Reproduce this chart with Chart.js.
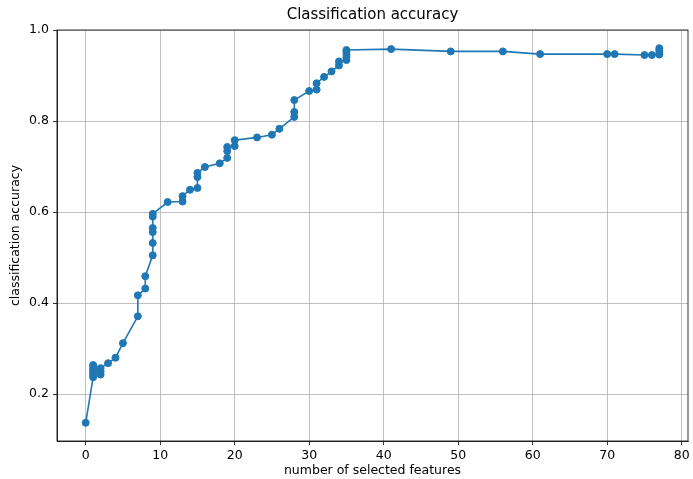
<!DOCTYPE html>
<html>
<head>
<meta charset="utf-8">
<title>Classification accuracy</title>
<script src="https://cdn.jsdelivr.net/npm/chart.js@4.4.0/dist/chart.umd.min.js"></script>
<style>
    html, body { margin: 0; padding: 0; background: #fff; }
    canvas { display: block; }
</style>
</head>
<body>
<canvas id="accuracyChart" width="693" height="479"></canvas>
<script>
// number of selected features for each run, and the accuracy it reached
var featureCounts = [
    0,
    1, 1, 1, 1, 1, 1,
    2, 2, 2,
    3, 4, 5,
    7, 7, 8, 8,
    9, 9, 9, 9, 9, 9,
    11, 13, 13, 14, 15, 15, 15, 16, 18,
    19, 19, 19, 20, 20,
    23, 25, 26, 28, 28, 28,
    30, 31, 31, 32, 33, 34, 34,
    35, 35, 35, 35, 35,
    41, 49, 56, 61, 70, 71, 75, 76,
    77, 77, 77, 77
];
var accuracy = [
    0.137,
    0.237, 0.243, 0.248, 0.253, 0.258, 0.264,
    0.243, 0.250, 0.257,
    0.268, 0.280, 0.312,
    0.371, 0.417, 0.432, 0.459,
    0.505, 0.532, 0.556, 0.565, 0.590, 0.596,
    0.622, 0.623, 0.635, 0.649, 0.653, 0.677, 0.686, 0.699, 0.707,
    0.719, 0.734, 0.743, 0.745, 0.758,
    0.764, 0.770, 0.783, 0.809, 0.820, 0.846,
    0.866, 0.869, 0.883, 0.897, 0.909, 0.922, 0.931,
    0.934, 0.940, 0.946, 0.952, 0.956,
    0.958, 0.953, 0.953, 0.947, 0.947, 0.947, 0.945, 0.945,
    0.946, 0.950, 0.955, 0.960
];
var xTicks = [0, 10, 20, 30, 40, 50, 60, 70, 80];
var yTicks = [0.2, 0.4, 0.6, 0.8, 1.0];

document.addEventListener("DOMContentLoaded", function () {
    var points = featureCounts.map(function (x, i) {
        return { x: x, y: accuracy[i] };
    });

    var font = { family: "'DejaVu Sans', sans-serif", size: 12.5 };

    // matplotlib draws a closed frame round the axes
    var frame = {
        id: 'frame',
        afterDatasetsDraw: function (chart) {
            var a = chart.chartArea;
            var ctx = chart.ctx;
            ctx.save();
            ctx.strokeStyle = '#000';
            ctx.lineWidth = 0.8;
            ctx.strokeRect(a.left, a.top, a.right - a.left, a.bottom - a.top);
            ctx.restore();
        }
    };

    var ctx = document.getElementById('accuracyChart').getContext('2d');
    new Chart(ctx, {
        type: 'scatter',
        data: {
            datasets: [{
                data: points,
                showLine: true,
                borderColor: '#1f77b4',
                borderWidth: 1.6,
                backgroundColor: '#1f77b4',
                pointRadius: 3.5,
                pointBorderWidth: 1,
                pointBackgroundColor: '#1f77b4',
                pointBorderColor: '#1f77b4'
            }]
        },
        options: {
            responsive: false,
            animation: false,
            layout: { padding: { left: 0, right: 2, top: 0, bottom: 0 } },
            plugins: {
                legend: { display: false },
                tooltip: { enabled: false },
                title: {
                    display: true,
                    fullSize: false,
                    text: 'Classification accuracy',
                    color: '#000',
                    font: { family: font.family, size: 15, weight: 'normal' },
                    padding: { top: 6, bottom: 6 }
                }
            },
            scales: {
                x: {
                    type: 'linear',
                    min: -3.85,
                    max: 80.85,
                    afterBuildTicks: function (scale) {
                        scale.ticks = xTicks.map(function (v) { return { value: v }; });
                    },
                    afterFit: function (scale) {
                        scale.height = 38;
                    },
                    ticks: {
                        color: '#000',
                        font: font,
                        padding: 3,
                        maxRotation: 0,
                        callback: function (v) { return String(v); }
                    },
                    grid: {
                        color: '#b0b0b0',
                        lineWidth: 0.8,
                        tickColor: '#000',
                        tickLength: 4
                    },
                    border: { color: '#000', width: 0.8 },
                    title: {
                        display: true,
                        text: 'number of selected features',
                        color: '#000',
                        font: font,
                        padding: { top: 0, bottom: 1 }
                    }
                },
                y: {
                    type: 'linear',
                    min: 0.097,
                    max: 1.0,
                    afterBuildTicks: function (scale) {
                        scale.ticks = yTicks.map(function (v) { return { value: v }; });
                    },
                    afterFit: function (scale) {
                        scale.width = 57;
                    },
                    ticks: {
                        color: '#000',
                        font: font,
                        padding: 4,
                        callback: function (v) { return v.toFixed(1); }
                    },
                    grid: {
                        color: '#b0b0b0',
                        lineWidth: 0.8,
                        tickColor: '#000',
                        tickLength: 4
                    },
                    border: { color: '#000', width: 0.8 },
                    title: {
                        display: true,
                        text: 'classification accuracy',
                        color: '#000',
                        font: font,
                        padding: { top: 8, bottom: 0 }
                    }
                }
            }
        },
        plugins: [frame]
    });
});
</script>
</body>
</html>
